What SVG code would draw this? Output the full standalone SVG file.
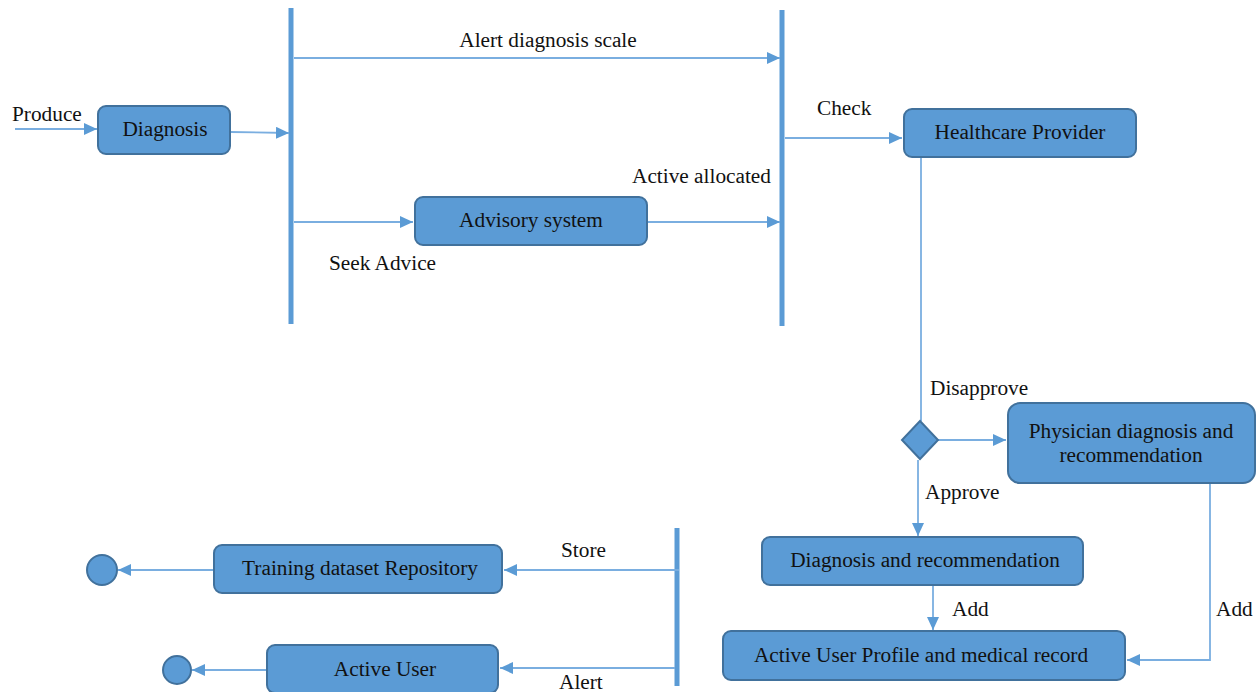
<svg xmlns="http://www.w3.org/2000/svg" width="1256" height="692" viewBox="0 0 1256 692">
<style>
.box{fill:#5b9bd5;stroke:#41719c;stroke-width:2}
.bar{stroke:#5b9bd5;stroke-width:5}
.c{fill:none;stroke:#7aaee0;stroke-width:1.8}
.t{font-family:"Liberation Serif",serif;font-size:21.3px;fill:#111}
.m{text-anchor:middle}
</style>
<defs>
<marker id="a" markerUnits="userSpaceOnUse" markerWidth="14" markerHeight="12" refX="13" refY="6" orient="auto">
<path d="M0,0 L13,6 L0,12 Z" fill="#5b9bd5"/>
</marker>
</defs>
<rect width="1256" height="692" fill="#fff"/>
<g id="bars">
<line class="bar" x1="291" y1="8" x2="291" y2="324"/>
<line class="bar" x1="782" y1="10" x2="782" y2="326"/>
<line class="bar" x1="677" y1="528" x2="677" y2="686"/>
</g>
<g id="connectors">
<line class="c" x1="15" y1="129" x2="97" y2="129" marker-end="url(#a)"/>
<line class="c" x1="230" y1="132" x2="289" y2="133" marker-end="url(#a)"/>
<line class="c" x1="294" y1="58" x2="780" y2="58" marker-end="url(#a)"/>
<line class="c" x1="294" y1="222" x2="413" y2="222" marker-end="url(#a)"/>
<line class="c" x1="647" y1="222" x2="780" y2="222" marker-end="url(#a)"/>
<line class="c" x1="785" y1="138" x2="902" y2="138" marker-end="url(#a)"/>
<line class="c" x1="921" y1="157" x2="921" y2="421"/>
<line class="c" x1="938" y1="440" x2="1006" y2="440" marker-end="url(#a)"/>
<line class="c" x1="918" y1="460" x2="918" y2="536" marker-end="url(#a)"/>
<line class="c" x1="933" y1="585" x2="933" y2="630" marker-end="url(#a)"/>
<polyline class="c" points="1210,483 1210,660 1127,660" marker-end="url(#a)"/>
<line class="c" x1="679" y1="570" x2="504" y2="570" marker-end="url(#a)"/>
<line class="c" x1="214" y1="570" x2="118" y2="570" marker-end="url(#a)"/>
<line class="c" x1="675" y1="668" x2="500" y2="668" marker-end="url(#a)"/>
<line class="c" x1="267" y1="670" x2="192" y2="670" marker-end="url(#a)"/>
</g>
<g id="labels">
<text class="t" x="12" y="121">Produce</text>
<text class="t m" x="548" y="47">Alert diagnosis scale</text>
<text class="t" x="817" y="115">Check</text>
<text class="t" x="632" y="183">Active allocated</text>
<text class="t" x="329" y="270">Seek Advice</text>
<text class="t" x="930" y="395">Disapprove</text>
<text class="t" x="925" y="499">Approve</text>
<text class="t" x="561" y="557">Store</text>
<text class="t" x="559" y="689">Alert</text>
<text class="t" x="952" y="616">Add</text>
<text class="t" x="1216" y="616">Add</text>
</g>
<g id="diagnosis"><rect class="box" x="98" y="106" width="132" height="48" rx="8"/><text class="t m" x="165" y="136">Diagnosis</text></g>
<g id="advisory"><rect class="box" x="415" y="197" width="232" height="48" rx="8"/><text class="t m" x="531" y="227">Advisory system</text></g>
<g id="healthcare"><rect class="box" x="904" y="109" width="232" height="48" rx="8"/><text class="t m" x="1020" y="139">Healthcare Provider</text></g>
<g id="decision"><polygon class="box" points="920,421 938,440 920,459 902,440"/></g>
<g id="physician"><rect class="box" x="1008" y="403" width="247" height="80" rx="12"/><text class="t m" x="1131" y="438">Physician diagnosis and</text><text class="t m" x="1131" y="462">recommendation</text></g>
<g id="diagrec"><rect class="box" x="762" y="537" width="321" height="48" rx="8"/><text class="t m" x="925" y="567">Diagnosis and recommendation</text></g>
<g id="profile"><rect class="box" x="723" y="631" width="402" height="49" rx="8"/><text class="t m" x="921" y="662">Active User Profile and medical record</text></g>
<g id="training"><rect class="box" x="214" y="545" width="288" height="48" rx="8"/><text class="t m" x="360" y="575">Training dataset Repository</text></g>
<g id="activeuser"><rect class="box" x="267" y="645" width="231" height="48" rx="8"/><text class="t m" x="385" y="676">Active User</text></g>
<g id="end1"><circle class="box" cx="102" cy="570" r="15"/></g>
<g id="end2"><circle class="box" cx="177" cy="670" r="14"/></g>
</svg>
